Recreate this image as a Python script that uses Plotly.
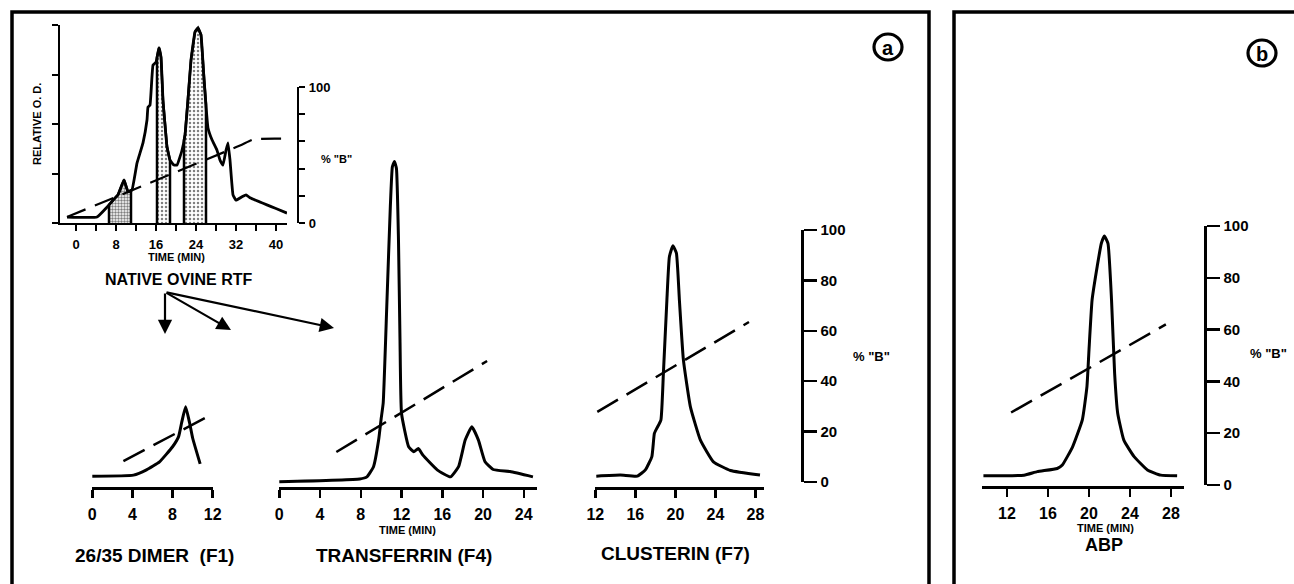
import numpy as np
import plotly.graph_objects as go

# ---------------- data ----------------
# Inset: native ovine RTF chromatogram (relative O.D. units 0-4) vs time (min)
rtf_t = [-1.8, 4.2, 6.2, 7.4, 8.4, 9.6, 10.4, 11.2, 12.2, 13.4, 14.2, 14.4, 14.8, 15.4, 16.0, 16.6, 17.0,
         17.4, 18.2, 18.8, 19.6, 20.2, 21.2, 21.8, 22.4, 23.0, 23.8, 24.4, 25.0, 25.6, 26.4, 27.2,
         28.2, 28.8, 29.4, 30.0, 30.4, 30.8, 31.4, 32.0, 33.2, 34.0, 34.8, 42.2]
rtf_od = [0.12, 0.12, 0.32, 0.46, 0.57, 0.87, 0.63, 0.67, 1.21, 1.62, 2.08, 2.34, 2.38, 3.19, 3.25, 3.54, 3.35,
          2.48, 1.54, 1.27, 1.17, 1.17, 1.47, 1.78, 2.48, 3.29, 3.86, 3.94, 3.80, 2.89, 1.92, 1.68,
          1.47, 1.27, 1.17, 1.47, 1.62, 1.27, 0.57, 0.46, 0.53, 0.57, 0.51, 0.20]
rtf_grad_t = [-1.8, 32.8, 35.5, 42.0]
rtf_grad_b = [4.4, 57.0, 61.5, 62.0]
rtf_fractions = [(6.6, 11.0), (16.2, 18.8), (21.6, 26.0)]

# F1: 26/35 dimer
f1_t = [0.0, 4.1, 5.4, 6.7, 8.0, 8.6, 8.9, 9.3, 9.7, 10.0, 10.75]
f1_od = [3.1, 3.4, 4.9, 7.2, 11.5, 14.4, 18.3, 22.9, 18.3, 14.0, 6.6]
f1_grad_t = [3.1, 12.0]
f1_grad_b = [8.3, 27.0]

# F4: transferrin
f4_t = [0.0, 7.9, 8.6, 9.25, 9.75, 10.0, 10.2, 10.55, 10.9, 11.1, 11.3, 11.5, 11.7, 11.85, 12.0,
        12.7, 13.2, 13.65, 14.1, 15.5, 16.8, 17.6, 18.25, 18.9, 19.55, 20.2, 21.0, 22.65, 24.9]
f4_od = [1.5, 2.3, 2.9, 5.8, 13.4, 19.5, 24.0, 51.5, 80.1, 91.5, 93.0, 91.0, 70.6, 42.0, 21.0,
         11.5, 10.1, 11.0, 9.1, 4.9, 2.9, 5.8, 13.4, 17.2, 13.4, 7.2, 5.0, 4.4, 2.9]
f4_grad_t = [5.6, 20.4]
f4_grad_b = [11.9, 48.0]

# F7: clusterin
f7_t = [12.1, 14.5, 16.2, 17.0, 17.65, 17.9, 18.15, 18.55, 18.8, 19.15, 19.4, 19.75, 20.1, 20.4,
        20.8, 21.5, 22.5, 23.8, 25.5, 28.45]
f7_od = [3.1, 3.4, 3.1, 4.9, 8.7, 15.3, 16.8, 19.1, 32.4, 53.4, 65.8, 68.9, 66.8, 53.4,
         36.3, 22.9, 13.4, 7.2, 4.7, 3.4]
f7_grad_t = [12.2, 27.35]
f7_grad_b = [27.8, 63.5]

# ABP (panel b)
abp_t = [9.7, 13.66, 14.95, 16.9, 17.4, 18.4, 19.35, 19.8, 20.0, 20.3, 20.8, 21.2, 21.5, 21.85,
         22.2, 22.5, 22.8, 23.4, 24.4, 25.7, 27.0, 28.6]
abp_od = [2.9, 3.1, 4.1, 5.0, 6.0, 11.2, 18.9, 28.4, 38.9, 53.1, 62.7, 69.3, 71.4, 69.3,
          53.1, 32.2, 20.8, 13.1, 8.4, 4.6, 3.1, 2.9]
abp_grad_t = [12.4, 27.5]
abp_grad_b = [28.0, 62.0]

inset_xticks = [0, 4, 8, 12, 16, 20, 24, 28, 32, 36, 40]
inset_xlabels = ["0", "", "8", "", "16", "", "24", "", "32", "", "40"]
f1_ticks = [0, 4, 8, 12]
f4_ticks = [0, 4, 8, 12, 16, 20, 24]
f7_ticks = [12, 16, 20, 24, 28]
abp_ticks = [12, 16, 20, 24, 28]
pb_ticks = [0, 20, 40, 60, 80, 100]
pb_labels = ["0", "20", "40", "60", "80", "100"]
inset_pb_labels = ["0", "", "", "", "", "100"]

# ---------------- layout helpers ----------------
W, H = 1294, 584
FONT = "Liberation Sans"


def px(x):
    return x / W


def py(y):
    return 1 - y / H


BLACK = "black"
fig = go.Figure()

curve_line = dict(color=BLACK, width=3, shape="spline", smoothing=0.4)
dash_line = dict(color=BLACK, width=2.5, dash="24px,10px")


def add_line(x, y, xa, ya, line):
    fig.add_trace(go.Scatter(x=x, y=y, mode="lines", line=line, xaxis=xa, yaxis=ya,
                             hoverinfo="skip", showlegend=False))


# inset shaded fractions
for i, (a, b) in enumerate(rtf_fractions):
    inner = [t for t in rtf_t if a < t < b]
    xs = [a, a] + inner + [b, b]
    ys = [0, float(np.interp(a, rtf_t, rtf_od))] + [float(np.interp(t, rtf_t, rtf_od)) for t in inner] + \
         [float(np.interp(b, rtf_t, rtf_od)), 0]
    fig.add_trace(go.Scatter(
        x=xs, y=ys, mode="lines", fill="toself", xaxis="x", yaxis="y",
        line=dict(color=BLACK, width=2.5),
        fillcolor="white",
        fillpattern=dict(shape=".", size=3 if i == 0 else 4, solidity=0.5 if i == 0 else 0.3,
                         fgcolor=BLACK, bgcolor="white"),
        hoverinfo="skip", showlegend=False))

add_line(rtf_t, rtf_od, "x", "y", dict(color=BLACK, width=2.8, shape="spline", smoothing=0.3))
add_line(rtf_grad_t, rtf_grad_b, "x", "y2", dict(color=BLACK, width=2.2, dash="20px,10px",
                                                  shape="spline", smoothing=0.5))

add_line(f1_t, f1_od, "x2", "y3", curve_line)
add_line(f1_grad_t, f1_grad_b, "x2", "y4", dash_line)
add_line(f4_t, f4_od, "x3", "y3", curve_line)
add_line(f4_grad_t, f4_grad_b, "x3", "y4", dash_line)
add_line(f7_t, f7_od, "x4", "y3", curve_line)
add_line(f7_grad_t, f7_grad_b, "x4", "y4", dash_line)
add_line(abp_t, abp_od, "x5", "y5", curve_line)
add_line(abp_grad_t, abp_grad_b, "x5", "y6", dash_line)

tickfont = dict(family=FONT, size=16, color=BLACK, weight="bold")
small_tickfont = dict(family=FONT, size=13, color=BLACK, weight="bold")

common_x = dict(showline=True, linecolor=BLACK, linewidth=2.5, ticks="outside", ticklen=8,
                tickwidth=2.5, tickcolor=BLACK, showgrid=False, zeroline=False, fixedrange=True,
                tickfont=tickfont, ticklabelstandoff=3, automargin=False)
hidden_y = dict(showline=False, showgrid=False, zeroline=False, showticklabels=False, ticks="",
                range=[0, 100], fixedrange=True, automargin=False)
pb_axis = dict(showline=True, linecolor=BLACK, linewidth=2.5, ticks="outside", ticklen=13,
               tickwidth=2.5, tickcolor=BLACK, showgrid=False, zeroline=False, fixedrange=True,
               side="right", anchor="free", range=[0, 100], tickvals=pb_ticks, ticktext=pb_labels,
               tickfont=dict(family=FONT, size=15, color=BLACK, weight="bold"), automargin=False,
               ticklabelstandoff=1)

fig.update_layout(
    width=W, height=H, margin=dict(l=0, r=0, t=0, b=0, pad=0, autoexpand=False),
    paper_bgcolor="white", plot_bgcolor="rgba(0,0,0,0)", showlegend=False,
    # inset
    xaxis=dict(common_x, domain=[px(60), px(287)], range=[-3.2, 42.2], anchor="y",
               tickvals=inset_xticks, ticktext=inset_xlabels, ticklen=6, tickwidth=2,
               linewidth=2.2, tickfont=small_tickfont, ticklabelstandoff=2),
    yaxis=dict(showline=True, linecolor=BLACK, linewidth=2.2, ticks="outside", ticklen=6, tickwidth=2,
               tickcolor=BLACK, showgrid=False, zeroline=False, showticklabels=False,
               domain=[py(223), py(25)], range=[0, 4], tickvals=[0, 1, 2, 3, 4], anchor="x",
               fixedrange=True, automargin=False),
    yaxis2=dict(pb_axis, domain=[py(223), py(87)], position=px(298), ticklen=6, tickwidth=2,
                linewidth=2.2, ticktext=inset_pb_labels, tickfont=small_tickfont),
    # panel a sub-charts
    yaxis3=dict(hidden_y, domain=[py(487), py(137)]),
    xaxis2=dict(common_x, domain=[px(92), px(213)], range=[-0.03, 12.03], anchor="y3", tickvals=f1_ticks),
    xaxis3=dict(common_x, domain=[px(279), px(537)], range=[-0.03, 25.3], anchor="y3", tickvals=f4_ticks),
    xaxis4=dict(common_x, domain=[px(595), px(764)], range=[11.97, 28.85], anchor="y3", tickvals=f7_ticks),
    yaxis4=dict(pb_axis, domain=[py(482), py(230)], position=px(802)),
    # panel b
    yaxis5=dict(hidden_y, domain=[py(486), py(136)]),
    xaxis5=dict(common_x, domain=[px(982), px(1184)], range=[9.56, 29.27], anchor="y5", tickvals=abp_ticks),
    yaxis6=dict(pb_axis, domain=[py(485), py(226)], position=px(1205)),
)

# frames
fig.add_shape(type="rect", xref="paper", yref="paper", x0=px(12), x1=px(929), y0=py(610), y1=py(12),
              line=dict(color=BLACK, width=3.5))
fig.add_shape(type="rect", xref="paper", yref="paper", x0=px(954), x1=px(1320), y0=py(610), y1=py(12),
              line=dict(color=BLACK, width=3.5))
# circled panel letters
for cx, cy, letter in [(888, 47, "a"), (1262, 53, "b")]:
    fig.add_shape(type="circle", xref="paper", yref="paper", x0=px(cx - 14), x1=px(cx + 14),
                  y0=py(cy + 13), y1=py(cy - 13), line=dict(color=BLACK, width=3.2))
    fig.add_annotation(x=px(cx), y=py(cy + 1), xref="paper", yref="paper", text=letter, showarrow=False,
                       font=dict(family=FONT, size=20, color=BLACK, weight="bold"),
                       xanchor="center", yanchor="middle")


def label(x, y, text, size, angle=0):
    fig.add_annotation(x=px(x), y=py(y), xref="paper", yref="paper", text=text, showarrow=False,
                       textangle=angle, xanchor="center", yanchor="middle",
                       font=dict(family=FONT, size=size, color=BLACK, weight="bold"))


label(37, 124, "RELATIVE O. D.", 11, angle=-90)
label(176, 257, "TIME (MIN)", 11)
label(178, 279, "NATIVE OVINE RTF", 16)
label(336, 159, '% "B"', 11)
label(407, 530, "TIME (MIN)", 11)
label(154, 555, "26/35 DIMER  (F1)", 19)
label(404, 555, "TRANSFERRIN (F4)", 19)
label(675, 553, "CLUSTERIN (F7)", 19)
label(871, 357, '% "B"', 13)
label(1105, 528, "TIME (MIN)", 11)
label(1104, 545, "ABP", 18)
label(1268, 353, '% "B"', 13)

# arrows from the inset title
for (tx, ty) in [(165, 334), (231, 330), (334, 328)]:
    fig.add_annotation(x=px(tx), y=py(ty), xref="paper", yref="paper", ax=165 - tx, ay=292 - ty,
                       axref="pixel", ayref="pixel", text="", showarrow=True, arrowhead=2,
                       arrowsize=1.3, arrowwidth=2.2, arrowcolor=BLACK)

fig.write_html("out.html", config={"displayModeBar": False, "staticPlot": True},
               post_script="document.body.style.margin='0';document.body.style.overflow='hidden';")
